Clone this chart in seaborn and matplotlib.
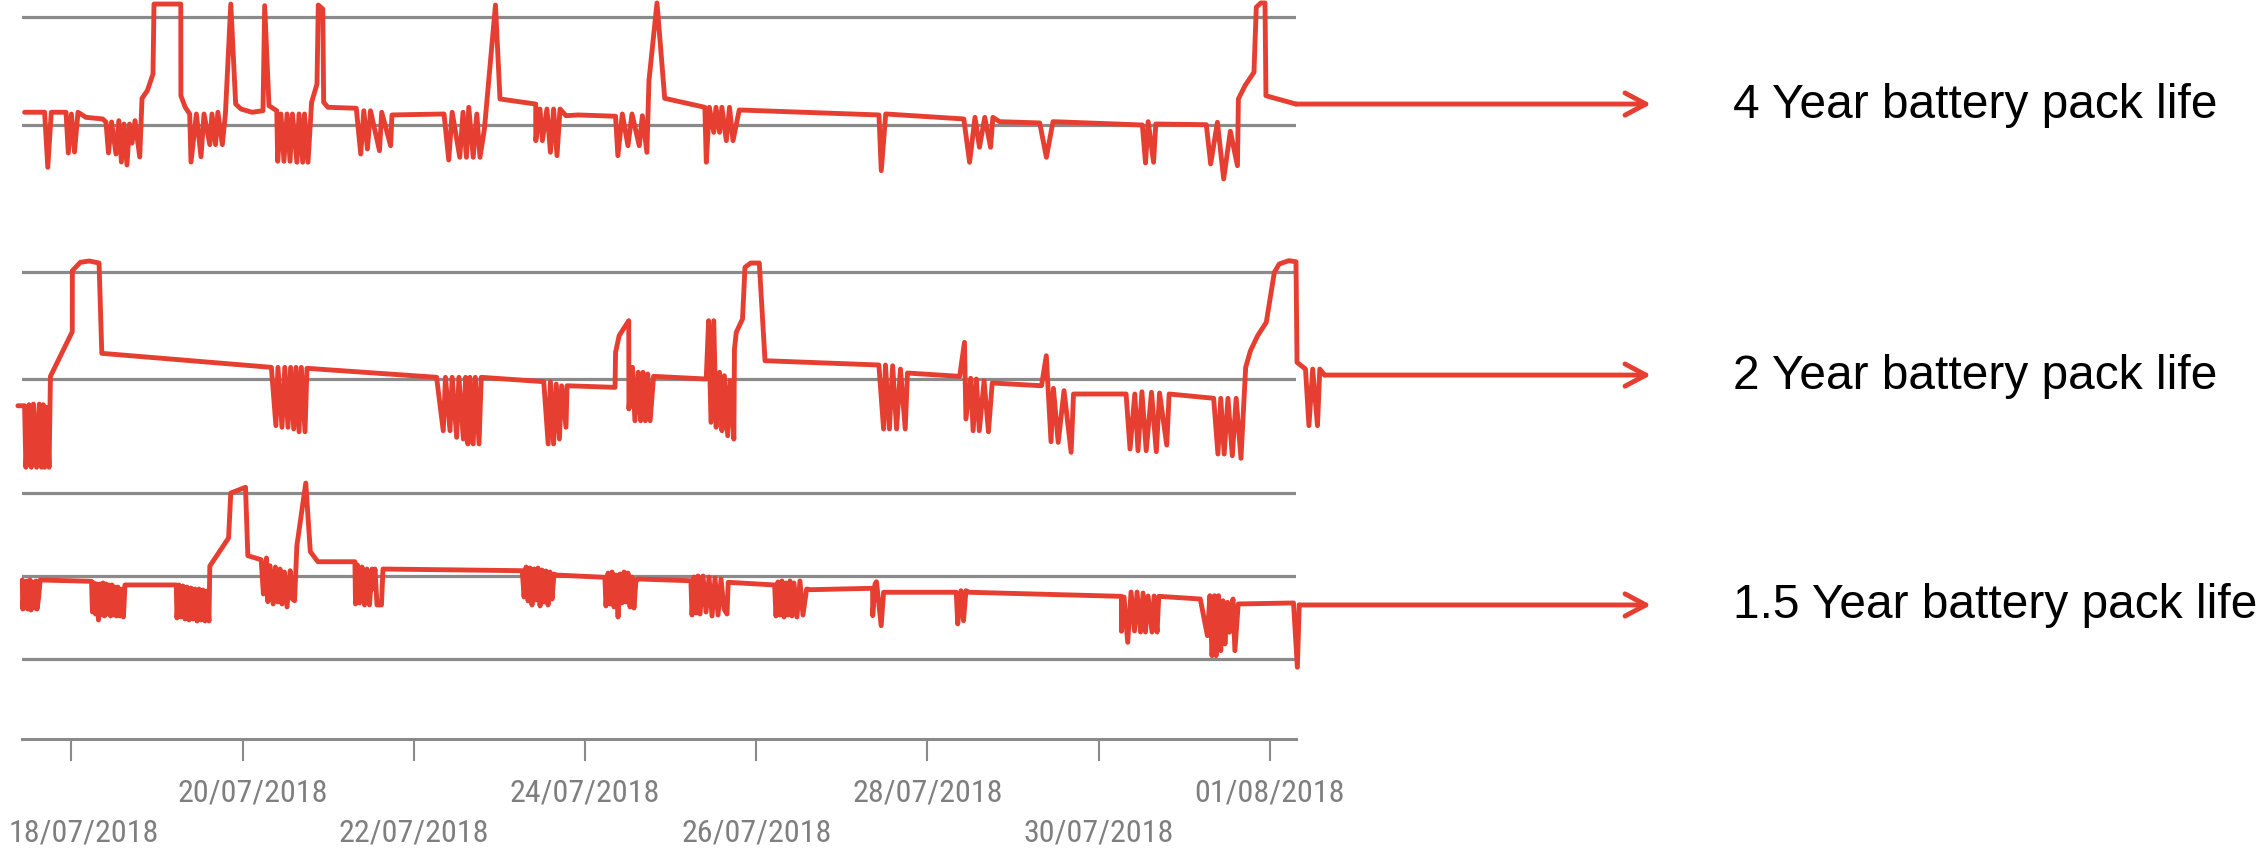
import numpy as np
import pandas as pd
import matplotlib
matplotlib.use("Agg")
import matplotlib.pyplot as plt
import matplotlib.transforms as mtransforms
from matplotlib import font_manager
import seaborn as sns

# ---------------- data (days since 18/07/2018 00:00, level in grid units) -------------
trace_4yr = [(-0.548,0.118),(-0.314,0.118),(-0.277,-0.392),(-0.236,0.118),(-0.064,0.118),(-0.037,-0.259),(-0.001,0.102),(0.035,-0.25),(0.076,0.118),(0.169,0.071),(0.364,0.056),(0.403,0.028),(0.432,-0.259),(0.468,0.028),(0.520,-0.269),(0.553,0.040),(0.583,-0.343),(0.613,0.009),(0.648,-0.370),(0.678,0.009),(0.707,-0.167),(0.742,0.040),(0.797,-0.296),(0.824,0.247),(0.886,0.318),(0.952,0.472),(0.964,1.120),(1.277,1.120),(1.278,0.271),(1.329,0.164),(1.381,0.102),(1.396,-0.343),(1.459,0.102),(1.513,-0.294),(1.548,0.102),(1.616,-0.182),(1.641,0.102),(1.683,-0.182),(1.710,0.118),(1.762,-0.182),(1.798,0.102),(1.861,1.120),(1.918,0.194),(1.980,0.148),(2.109,0.118),(2.237,0.132),(2.257,1.105),(2.307,0.179),(2.398,0.132),(2.409,-0.336),(2.447,0.102),(2.482,-0.336),(2.518,0.102),(2.553,-0.336),(2.581,0.102),(2.633,-0.345),(2.658,0.102),(2.701,-0.345),(2.722,0.102),(2.763,-0.345),(2.805,0.210),(2.868,0.380),(2.883,1.111),(2.936,1.074),(2.946,0.210),(2.996,0.164),(3.327,0.155),(3.379,-0.269),(3.415,0.132),(3.457,-0.222),(3.493,0.132),(3.598,-0.238),(3.624,0.118),(3.728,-0.192),(3.744,0.093),(4.352,0.102),(4.407,-0.324),(4.447,0.118),(4.536,-0.299),(4.574,0.118),(4.614,-0.299),(4.641,0.164),(4.693,-0.299),(4.735,0.102),(4.772,-0.299),(4.824,-0.037),(4.953,1.111),(5.006,0.241),(5.423,0.194),(5.424,-0.145),(5.473,0.148),(5.501,-0.145),(5.554,0.148),(5.595,-0.253),(5.632,0.148),(5.672,-0.284),(5.707,0.148),(5.777,0.086),(5.917,0.093),(6.356,0.081),(6.383,-0.284),(6.435,0.102),(6.501,-0.192),(6.548,0.102),(6.633,-0.192),(6.669,0.086),(6.722,-0.253),(6.746,0.410),(6.840,1.130),(6.930,0.247),(7.399,0.164),(7.416,-0.345),(7.452,0.164),(7.503,-0.068),(7.529,0.164),(7.571,-0.068),(7.598,0.164),(7.650,-0.145),(7.687,0.164),(7.728,-0.145),(7.801,0.139),(9.433,0.093),(9.460,-0.423),(9.512,0.102),(10.424,0.056),(10.492,-0.345),(10.555,0.071),(10.607,-0.206),(10.669,0.071),(10.737,-0.206),(10.764,0.071),(10.842,0.031),(11.311,0.019),(11.389,-0.299),(11.466,0.031),(12.510,0.0),(12.547,-0.352),(12.578,0.031),(12.641,-0.345),(12.667,0.009),(13.257,0.003),(13.308,-0.361),(13.387,0.025),(13.460,-0.5),(13.538,-0.058),(13.621,-0.377),(13.632,0.241),(13.709,0.364),(13.814,0.488),(13.841,1.090),(13.893,1.130),(13.943,1.130),(13.954,0.271),(14.304,0.194)]

trace_2yr = [(-0.626,-0.250),(-0.548,-0.250),(-0.533,-0.825),(-0.496,-0.240),(-0.470,-0.825),(-0.444,-0.234),(-0.408,-0.825),(-0.376,-0.234),(-0.350,-0.825),(-0.329,-0.240),(-0.314,-0.825),(-0.287,-0.264),(-0.262,-0.825),(-0.246,0.025),(0.009,0.442),(0.010,1.012),(0.104,1.091),(0.208,1.103),(0.322,1.084),(0.354,0.240),(2.335,0.109),(2.388,-0.436),(2.412,0.109),(2.459,-0.451),(2.492,0.109),(2.529,-0.451),(2.560,0.109),(2.596,-0.467),(2.623,0.109),(2.658,-0.493),(2.685,0.109),(2.728,-0.493),(2.751,0.100),(4.265,0.016),(4.343,-0.483),(4.369,0.016),(4.422,-0.483),(4.447,0.016),(4.500,-0.545),(4.526,0.016),(4.578,-0.561),(4.604,0.016),(4.631,-0.607),(4.655,0.016),(4.693,-0.607),(4.718,0.016),(4.761,-0.607),(4.787,0.016),(5.517,-0.025),(5.569,-0.607),(5.595,-0.025),(5.632,-0.607),(5.663,-0.047),(5.700,-0.561),(5.726,-0.063),(5.777,-0.451),(5.789,-0.063),(6.350,-0.078),(6.356,0.250),(6.398,0.405),(6.510,0.545),(6.512,-0.280),(6.554,0.109),(6.582,-0.390),(6.621,0.063),(6.649,-0.390),(6.676,0.063),(6.704,-0.390),(6.732,0.047),(6.760,-0.390),(6.800,0.025),(7.415,0.0),(7.443,0.545),(7.471,-0.405),(7.503,0.545),(7.531,-0.451),(7.571,0.063),(7.599,-0.483),(7.627,0.031),(7.666,-0.530),(7.694,-0.016),(7.738,-0.561),(7.745,0.280),(7.766,0.436),(7.839,0.561),(7.868,1.044),(7.935,1.084),(8.035,1.084),(8.102,0.171),(9.432,0.131),(9.487,-0.467),(9.509,0.131),(9.555,-0.467),(9.593,0.124),(9.639,-0.467),(9.684,0.093),(9.740,-0.467),(9.766,0.056),(10.376,0.025),(10.432,0.343),(10.449,-0.374),(10.505,0.007),(10.533,-0.483),(10.571,0.0),(10.605,-0.483),(10.661,-0.016),(10.712,-0.493),(10.756,-0.037),(11.332,-0.063),(11.388,0.218),(11.443,-0.586),(11.471,-0.087),(11.527,-0.592),(11.595,-0.109),(11.678,-0.685),(11.706,-0.140),(12.320,-0.140),(12.366,-0.654),(12.422,-0.140),(12.459,-0.670),(12.505,-0.119),(12.555,-0.670),(12.617,-0.124),(12.673,-0.679),(12.711,-0.131),(12.795,-0.617),(12.823,-0.140),(13.343,-0.180),(13.393,-0.701),(13.426,-0.180),(13.466,-0.701),(13.510,-0.180),(13.561,-0.717),(13.606,-0.180),(13.662,-0.741),(13.717,0.109),(13.773,0.264),(13.857,0.405),(13.958,0.530),(14.052,0.997),(14.109,1.075),(14.221,1.106),(14.305,1.096),(14.317,0.156),(14.416,0.093),(14.456,-0.436),(14.500,0.093),(14.556,-0.436),(14.583,0.093),(14.639,0.037)]

trace_15yr = [(-0.575,0.952),(-0.569,0.602),(-0.549,0.928),(-0.537,0.614),(-0.520,0.940),(-0.508,0.602),(-0.485,0.952),(-0.473,0.590),(-0.450,0.928),(-0.432,0.614),(-0.415,0.940),(-0.403,0.602),(-0.386,0.723),(-0.366,0.952),
(0.234,0.936),(0.245,0.566),(0.263,0.916),(0.280,0.542),(0.298,0.904),(0.315,0.470),(0.333,0.904),(0.350,0.530),(0.368,0.916),(0.386,0.518),(0.403,0.904),(0.421,0.542),(0.438,0.892),(0.456,0.518),(0.473,0.892),(0.491,0.530),(0.508,0.867),(0.526,0.518),(0.543,0.867),(0.567,0.518),(0.590,0.843),(0.607,0.506),(0.625,0.892),
(1.224,0.892),(1.232,0.494),(1.256,0.892),(1.279,0.506),(1.302,0.880),(1.326,0.482),(1.349,0.867),(1.373,0.470),(1.396,0.855),(1.419,0.482),(1.443,0.843),(1.466,0.458),(1.489,0.843),(1.513,0.470),(1.536,0.831),(1.560,0.458),(1.583,0.819),(1.606,0.458),(1.616,1.120),
(1.835,1.458),(1.861,2.0),(2.033,2.069),(2.060,1.245),(2.216,1.196),
(2.242,0.783),(2.278,1.217),(2.294,0.690),(2.319,1.124),(2.356,0.663),(2.382,1.108),(2.409,0.687),(2.436,1.084),(2.459,0.663),(2.487,1.048),(2.518,0.627),(2.555,1.064),(2.581,0.723),(2.606,0.702),
(2.633,1.365),(2.737,2.120),(2.790,1.293),(2.879,1.172),(3.311,1.172),
(3.318,0.663),(3.341,1.133),(3.365,0.675),(3.394,1.108),(3.423,0.651),(3.452,1.084),(3.481,0.651),(3.511,1.084),(3.516,0.843),(3.546,1.084),(3.569,0.651),(3.621,0.651),(3.639,1.084),
(5.266,1.064),
(5.287,0.747),(5.311,1.108),(5.334,0.699),(5.357,1.096),(5.380,0.651),(5.404,1.084),(5.427,0.711),(5.450,1.096),(5.474,0.639),(5.497,1.072),(5.520,0.687),(5.544,1.060),(5.567,0.651),(5.590,1.048),(5.614,0.723),(5.637,1.024),(5.658,1.012),
(6.231,0.984),
(6.244,0.639),(6.268,1.036),(6.291,0.663),(6.315,1.048),(6.338,0.627),(6.361,1.012),(6.385,0.506),(6.408,1.024),(6.431,0.675),(6.455,1.048),(6.478,0.687),(6.501,1.036),(6.525,0.627),(6.548,0.988),(6.571,0.614),(6.595,0.952),(6.621,0.964),
(7.236,0.943),
(7.249,0.530),(7.272,0.988),(7.296,0.554),(7.319,1.0),(7.343,0.542),(7.378,1.0),(7.413,0.566),(7.448,0.988),(7.483,0.518),(7.518,0.976),(7.553,0.530),(7.588,0.964),(7.623,0.602),(7.658,0.542),(7.672,0.924),
(8.214,0.892),
(8.230,0.518),(8.253,0.928),(8.277,0.530),(8.300,0.940),(8.324,0.506),(8.347,0.916),(8.370,0.530),(8.394,0.940),(8.417,0.518),(8.440,0.916),(8.475,0.506),(8.510,0.940),(8.545,0.530),(8.588,0.843),(8.633,0.835),
(9.359,0.852),(9.360,0.522),(9.387,0.904),(9.404,0.931),(9.459,0.401),(9.487,0.804),
(10.336,0.804),(10.353,0.422),(10.391,0.823),(10.421,0.461),(10.449,0.823),(10.488,0.804),
(12.265,0.755),(12.266,0.334),(12.296,0.747),(12.339,0.201),(12.378,0.807),(12.418,0.337),(12.448,0.807),(12.489,0.325),(12.518,0.795),(12.547,0.325),(12.577,0.759),(12.623,0.325),(12.647,0.759),(12.682,0.325),(12.702,0.755),
(13.187,0.723),
(13.270,0.281),(13.299,0.763),(13.324,0.040),(13.352,0.763),(13.371,0.040),(13.400,0.763),(13.426,0.100),(13.452,0.702),(13.475,0.181),(13.505,0.683),(13.528,0.322),(13.569,0.723),(13.591,0.100),(13.630,0.663),
(14.276,0.675),(14.321,-0.100),(14.343,0.651)]

series_labels = ["4 Year battery pack life", "2 Year battery pack life", "1.5 Year battery pack life"]
grid_levels = [[0, 1], [0, 1], [0, 1, 2]]
tick_dates = ["2018-07-18", "2018-07-20", "2018-07-22", "2018-07-24",
              "2018-07-26", "2018-07-28", "2018-07-30", "2018-08-01"]
tick_labels = ["18/07/2018", "20/07/2018", "22/07/2018", "24/07/2018",
               "26/07/2018", "28/07/2018", "30/07/2018", "01/08/2018"]

# ---------------- style -------------
RED = "#E63E30"
GRID = "#8A8A8A"
TICKC = "#7F7F7F"
LW = 3.5

sns.set_theme(style="white")
plt.rcParams['font.family'] = ['Liberation Sans', 'DejaVu Sans']
names = {f.name for f in font_manager.fontManager.ttflist}
tick_kw = dict(family=['DejaVu Sans'], fontstretch='condensed', fontsize=22)
for cand in ['Liberation Sans Narrow', 'Roboto Condensed', 'Open Sans Condensed']:
    if cand in names:
        tick_kw = dict(family=[cand], fontsize=23)
        break

base = pd.Timestamp("2018-07-18")
def to_df(pairs):
    d = np.array([p[0] for p in pairs])
    v = np.array([p[1] for p in pairs])
    return pd.DataFrame({"time": base + pd.to_timedelta(d, unit="D"), "level": v})

W, H = 2265, 853
fig = plt.figure(figsize=(W / 100, H / 100), dpi=100)
x0, x1 = 21.5, 1296
panels = [
    dict(top=0, bottom=175, ylim=(-0.4537, 1.1667)),
    dict(top=175, bottom=476, ylim=(-0.897, 1.916)),
    dict(top=476, bottom=740, ylim=(-0.964, 2.217)),
]
xlim = (base + pd.Timedelta(days=-0.584), base + pd.Timedelta(days=14.305))

axes = []
for p in panels:
    ax = fig.add_axes([x0 / W, 1 - p["bottom"] / H, (x1 - x0) / W, (p["bottom"] - p["top"]) / H])
    axes.append(ax)

traces = [trace_4yr, trace_2yr, trace_15yr]
for i, (ax, tr, p) in enumerate(zip(axes, traces, panels)):
    df = to_df(tr)
    sns.lineplot(data=df, x="time", y="level", ax=ax, sort=False, estimator=None,
                 color=RED, lw=LW, zorder=3)
    for ln in ax.lines:
        ln.set_clip_on(False)
    ax.set_xlim(*xlim)
    ax.set_ylim(*p["ylim"])
    ax.set_yticks(grid_levels[i])
    ax.yaxis.grid(True, color=GRID, lw=2.3)
    ax.xaxis.grid(False)
    ax.set_axisbelow(True)
    ax.tick_params(left=False, labelleft=False)
    ax.set_xlabel("")
    ax.set_ylabel("")
    for s in ["top", "left", "right"]:
        ax.spines[s].set_visible(False)
    ax.patch.set_alpha(0)
    last_t = df["time"].iloc[-1]
    last_v = df["level"].iloc[-1]
    ax.annotate("", xy=((1651 - x0) / (x1 - x0), last_v), xycoords=("axes fraction", "data"),
                xytext=(last_t, last_v), textcoords="data", annotation_clip=False,
                arrowprops=dict(arrowstyle="->,head_length=0.75,head_width=0.4",
                                color=RED, lw=LW, shrinkA=0, shrinkB=0, mutation_scale=20))
    tr_ = mtransforms.blended_transform_factory(ax.transAxes, ax.transData)
    ax.text((1733 - x0) / (x1 - x0), last_v, series_labels[i], transform=tr_,
            ha="left", va="center", fontsize=34.5, color="black", clip_on=False)
    if i < 2:
        ax.spines["bottom"].set_visible(False)
        ax.tick_params(bottom=False, labelbottom=False)

ax3 = axes[2]
ax3.spines["bottom"].set_visible(True)
ax3.spines["bottom"].set_color(GRID)
ax3.spines["bottom"].set_linewidth(2.2)
tdates = pd.to_datetime(tick_dates)
ax3.set_xticks(tdates)
ax3.set_xticklabels([""] * len(tdates))
ax3.tick_params(axis="x", bottom=True, direction="out", length=16, width=1.5, color=GRID)
offsets = [12, 10, 0, 0, 0, 0, 0, 0]
for k, (d, lab) in enumerate(zip(tdates, tick_labels)):
    dy = -53 if k % 2 == 1 else -93
    ax3.annotate(lab, xy=(d, 0), xycoords=("data", "axes fraction"),
                 xytext=(offsets[k], dy), textcoords="offset pixels",
                 ha="center", va="center", color=TICKC,
                 annotation_clip=False, **tick_kw)

fig.savefig("out.png", dpi=100)
